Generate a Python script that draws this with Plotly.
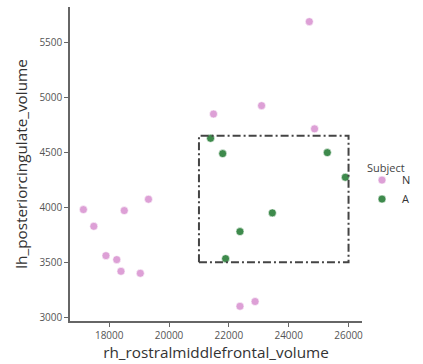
import plotly.graph_objects as go

# Data
n_x = [24689, 21486, 23093, 24864, 17137, 17485, 18503, 19312, 17891, 18252, 18393, 19039, 22371, 22876]
n_y = [5688, 4848, 4924, 4713, 3979, 3827, 3970, 4073, 3560, 3524, 3418, 3400, 3100, 3143]
a_x = [21388, 21793, 25290, 25893, 23453, 22371, 21891]
a_y = [4627, 4488, 4497, 4273, 3949, 3779, 3533]
box_x = [21000, 26000]
box_y = [3500, 4650]
x_ticks = [18000, 20000, 22000, 24000, 26000]
y_ticks = [3000, 3500, 4000, 4500, 5000, 5500]

font = "Open Sans"
fig = go.Figure()
fig.add_trace(go.Scatter(x=n_x, y=n_y, mode="markers", name="N",
                         marker=dict(color="#dda0d6", size=8, line=dict(color="white", width=0.6))))
fig.add_trace(go.Scatter(x=a_x, y=a_y, mode="markers", name="A",
                         marker=dict(color="#3e8a4c", size=8, line=dict(color="white", width=0.6))))

fig.add_shape(type="rect", xref="x", yref="y", x0=box_x[0], x1=box_x[1], y0=box_y[0], y1=box_y[1],
              line=dict(color="#444444", width=2, dash="8px,3px,2px,3px"))

fig.add_annotation(text="Subject", xref="paper", yref="paper", x=1.01, y=0.52,
                   xanchor="left", yanchor="top", showarrow=False,
                   font=dict(size=11, color="#444444", family=font))

fig.update_layout(
    width=423, height=364,
    margin=dict(l=70, r=55, t=7, b=43),
    plot_bgcolor="white", paper_bgcolor="white",
    font=dict(family=font, color="#333333"),
    legend=dict(font=dict(size=11, color="#333333"),
                x=1.0, xanchor="left", y=0.495, yanchor="top",
                itemwidth=30, tracegroupgap=0, bgcolor="rgba(0,0,0,0)"),
    xaxis=dict(title=dict(text="rh_rostralmiddlefrontal_volume", font=dict(size=15.3, color="#333333"), standoff=4),
               range=[16689, 26450], tickvals=x_ticks, ticktext=[str(v) for v in x_ticks],
               showgrid=False, zeroline=False, showline=True, linecolor="#666666", linewidth=1.5,
               ticks="outside", ticklen=4, tickcolor="#666666", tickfont=dict(size=10, color="#555555")),
    yaxis=dict(title=dict(text="lh_posteriorcingulate_volume", font=dict(size=15.3, color="#333333"), standoff=8),
               range=[2966, 5821], tickvals=y_ticks, ticktext=[str(v) for v in y_ticks],
               showgrid=False, zeroline=False, showline=True, linecolor="#666666", linewidth=1.5,
               ticks="outside", ticklen=4, tickcolor="#666666", tickfont=dict(size=10, color="#555555")),
)
fig.write_html("out.html", config={"displayModeBar": False},
               post_script="document.body.style.margin='0';")
